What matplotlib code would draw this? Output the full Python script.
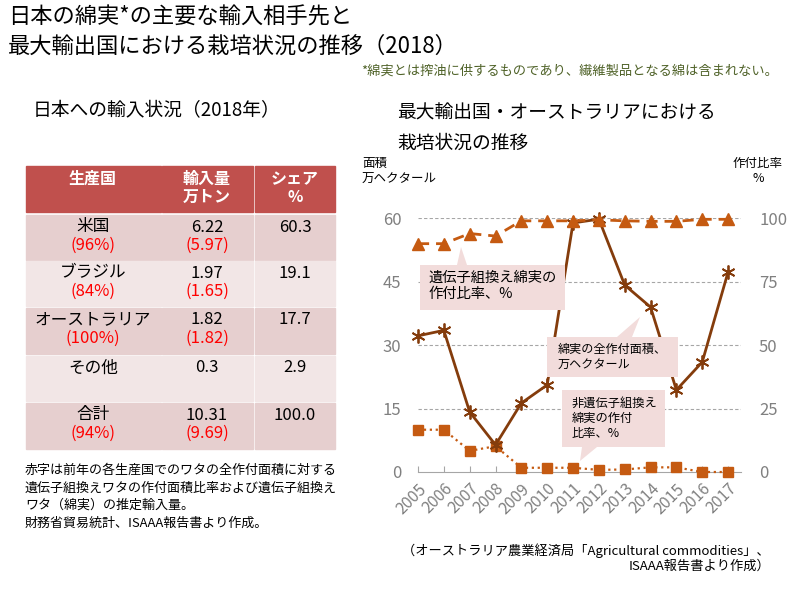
import matplotlib
matplotlib.use("Agg")
import matplotlib.pyplot as plt
from matplotlib.patches import Rectangle, Polygon

plt.rcParams['font.family'] = ['Noto Sans CJK JP', 'DejaVu Sans']

# --- data ---
years = list(range(2005, 2018))
area = [32.2, 33.5, 14.2, 6.4, 16.3, 20.6, 58.9, 59.8, 44.2, 39.0, 19.4, 26.0, 47.3]  # 万ヘクタール
gm_ratio = [90, 90, 94, 93, 99, 99, 99, 99.4, 99, 98.8, 98.8, 99.6, 99.6]  # %
non_gm = [10, 10, 5, 6.1, 1.0, 1.0, 1.0, 0.5, 0.6, 1.1, 1.1, 0, 0]  # plotted on left scale

countries = ["米国", "ブラジル", "オーストラリア", "その他", "合計"]
gm_share = ["(96%)", "(84%)", "(100%)", "", "(94%)"]
imports = ["6.22", "1.97", "1.82", "0.3", "10.31"]
gm_imports = ["(5.97)", "(1.65)", "(1.82)", "", "(9.69)"]
shares = ["60.3", "19.1", "17.7", "2.9", "100.0"]
headers = ["生産国", "輸入量\n万トン", "シェア\n%"]

dark = '#843C0C'
orange = '#C55A11'
gray = '#808080'

fig = plt.figure(figsize=(8, 6), dpi=100)

# --- chart ---
ax = fig.add_axes([418/800, 1-472/600, (741-418)/800, (472-218.3)/600])
ax2 = ax.twinx()
ax.set_xlim(2005, 2017.5); ax.set_ylim(0, 60)
ax2.set_ylim(0, 100)
for a in (ax, ax2):
    for s in a.spines.values():
        s.set_visible(False)
ax.spines['bottom'].set_visible(True); ax.spines['bottom'].set_color('#a6a6a6')
ax.set_yticks([0, 15, 30, 45, 60])
ax2.set_yticks([0, 25, 50, 75, 100])
ax.tick_params(axis='y', length=0, pad=12, labelsize=12, labelcolor=gray)
ax2.tick_params(axis='y', length=0, pad=13, labelsize=12, labelcolor=gray)
ax.set_xticks(years)
ax.set_xticklabels([str(y) for y in years], rotation=45, ha='right', va='top',
                   rotation_mode='anchor', fontsize=11.5, color=gray)
ax.tick_params(axis='x', direction='in', length=4, color='#a6a6a6', pad=6)
for v in [15, 30, 45, 60]:
    ax.axhline(v, color='#a6a6a6', lw=0.8, dashes=(3, 2), zorder=0)

ax.plot(years, non_gm, color=orange, lw=1.6, ls=':', marker='s', ms=7, clip_on=False, zorder=3)
ax.plot(years, area, color=dark, lw=2, marker=(6, 2, 0), ms=10, mew=1.3, clip_on=False, zorder=4)
ax2.plot(years, gm_ratio, color=orange, lw=2, dashes=(4, 2.5), marker='^', ms=9, clip_on=False, zorder=3)

# --- overlay for text, table, callouts ---
ov = fig.add_axes([0, 0, 1, 1], zorder=10)
ov.set_xlim(0, 800); ov.set_ylim(600, 0); ov.axis('off'); ov.patch.set_alpha(0)

ov.text(8, 17, "日本の綿実*の主要な輸入相手先と", fontsize=16, va='center', ha='left')
ov.text(8, 46, "最大輸出国における栽培状況の推移（2018）", fontsize=16, va='center', ha='left')
ov.text(778, 71, "*綿実とは搾油に供するものであり、繊維製品となる綿は含まれない。",
        fontsize=9.5, color='#4F6228', ha='right', va='center')

ov.text(33, 111, "日本への輸入状況（2018年）", fontsize=13.5, va='center')
ov.text(397, 113, "最大輸出国・オーストラリアにおける", fontsize=13.5, va='center')
ov.text(397, 143, "栽培状況の推移", fontsize=13.5, va='center')

ov.text(362, 171, "面積\n万ヘクタール", fontsize=9, va='center', ha='left', linespacing=1.3)
ov.text(758, 171, "作付比率\n%", fontsize=9, va='center', ha='center', linespacing=1.3)

# table
cols = [(26, 161), (162, 253), (255, 335)]
centers = [93, 207, 295]
head_y = (166, 212)
rows_y = [(215, 260), (261, 306), (308, 354), (356, 401), (403, 449)]
for (x0, x1) in cols:
    ov.add_patch(Rectangle((x0, head_y[0]), x1-x0, head_y[1]-head_y[0], color='#C0504D'))
ov.text(centers[0], 179, headers[0], color='white', fontweight='bold', fontsize=11.5, ha='center', va='center')
ov.text(centers[1], 188, headers[1], color='white', fontweight='bold', fontsize=11.5, ha='center', va='center', linespacing=1.15)
ov.text(centers[2], 188, headers[2], color='white', fontweight='bold', fontsize=11.5, ha='center', va='center', linespacing=1.15)

for r, (y0, y1) in enumerate(rows_y):
    fill = '#E6CFCF' if r % 2 == 0 else '#F2E6E6'
    for (x0, x1) in cols:
        ov.add_patch(Rectangle((x0, y0), x1-x0, y1-y0, color=fill))
    ov.text(centers[0], y0+12, countries[r], fontsize=12, ha='center', va='center')
    ov.text(centers[0], y0+30, gm_share[r], fontsize=12, ha='center', va='center', color='#FF0000')
    ov.text(centers[1], y0+12, imports[r], fontsize=12, ha='center', va='center')
    ov.text(centers[1], y0+30, gm_imports[r], fontsize=12, ha='center', va='center', color='#FF0000')
    ov.text(centers[2], y0+12, shares[r], fontsize=12, ha='center', va='center')

ov.text(25, 464, "赤字は前年の各生産国でのワタの全作付面積に対する\n"
        "遺伝子組換えワタの作付面積比率および遺伝子組換え\n"
        "ワタ（綿実）の推定輸入量。\n財務省貿易統計、ISAAA報告書より作成。",
        fontsize=9.4, va='top', ha='left', linespacing=1.45)

ov.text(770, 558, "（オーストラリア農業経済局「Agricultural commodities」、\nISAAA報告書より作成）",
        fontsize=9.5, ha='right', va='center', multialignment='right', linespacing=1.2)

# callouts
box = '#F2DCDB'
ov.add_patch(Polygon([(420, 265), (457, 265), (461, 247), (467, 265), (565, 265),
                      (565, 310), (420, 310)], closed=True, color=box, lw=0))
ov.text(428, 286, "遺伝子組換え綿実の\n作付比率、%", fontsize=10.3, va='center', ha='left', linespacing=1.25)

ov.add_patch(Polygon([(547, 337), (617, 337), (640, 317), (632, 337), (678, 337),
                      (678, 377), (547, 377)], closed=True, color=box, lw=0))
ov.text(558, 357, "綿実の全作付面積、\n万ヘクタール", fontsize=8.7, va='center', ha='left', linespacing=1.25)

ov.add_patch(Polygon([(562, 390), (665, 390), (665, 447), (597, 447), (580, 461),
                      (582, 447), (562, 447)], closed=True, color=box, lw=0))
ov.text(572, 418, "非遺伝子組換え\n綿実の作付\n比率、%", fontsize=8.8, va='center', ha='left', linespacing=1.2)

fig.savefig("out.png", dpi=100)
